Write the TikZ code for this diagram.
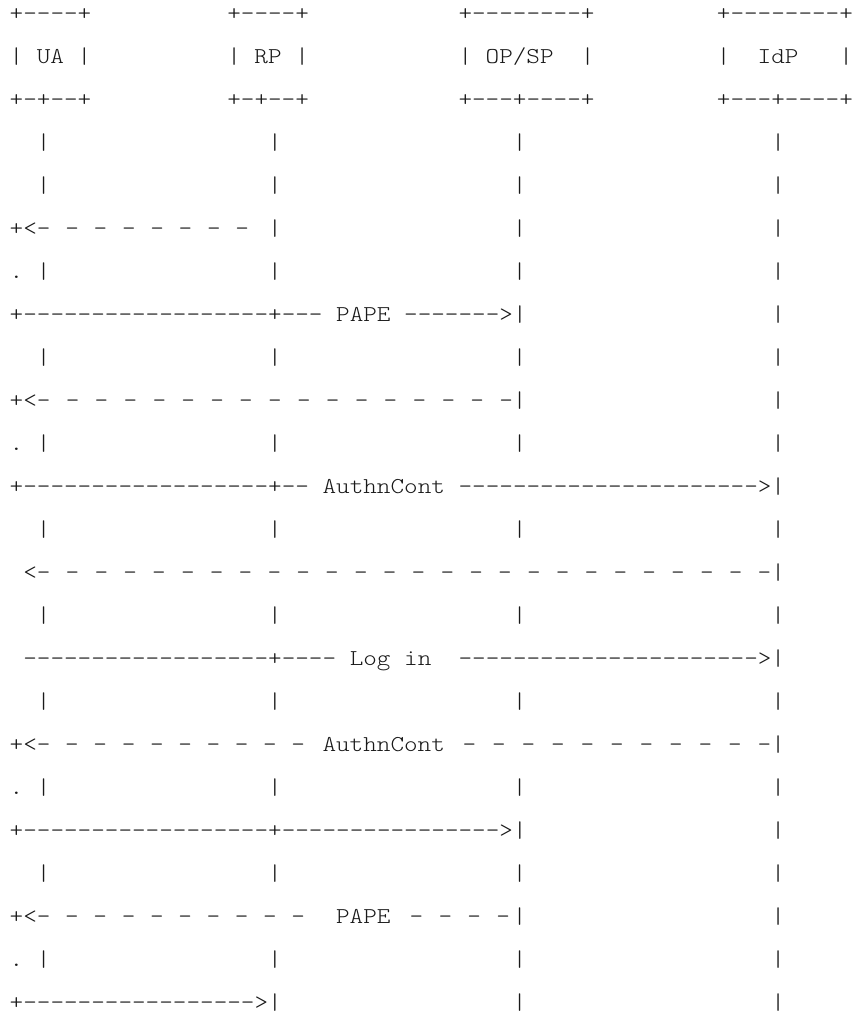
\documentclass[tikz,border=0pt]{standalone}
\usepackage{fontspec}
\setmonofont{lmmonolt10-regular.otf}[FakeStretch=1.143]
\ExplSyntaxOn
\NewDocumentCommand\dashrun{m}{\prg_replicate:nn{#1}{-}}
\ExplSyntaxOff
\colorlet{ink}{black!90}
\tikzset{glyph/.style={anchor=base west, inner sep=0pt, outer sep=0pt, text=ink,
  font=\ttfamily\fontsize{22.67pt}{43pt}\selectfont}}
% #1 name, #2 column, #3 line, #4 text
\newcommand\putat[4]{\node[glyph] (#1) at ({9.7+13.6*(#2)},{-20-43*((#3)-1)}) {#4};}
\begin{document}
\begin{tikzpicture}[x=1pt,y=1pt]
\fill[white] (0,0) rectangle (856,-1018);
\useasboundingbox (0,0) rectangle (856,-1018);
% header boxes
\putat{ua1}{0}{1}{+----+}
\putat{rp1}{16}{1}{+----+}
\putat{op1}{33}{1}{+--------+}
\putat{idp1}{52}{1}{+--------+}
\putat{ua2}{0}{2}{|~UA~|}
\putat{rp2}{16}{2}{|~RP~|}
\putat{op2}{33}{2}{|~OP/SP~~|}
\putat{idp2}{52}{2}{|~~IdP~~~|}
\putat{ua3}{0}{3}{+-+--+}
\putat{rp3}{16}{3}{+-+--+}
\putat{op3}{33}{3}{+---+----+}
\putat{idp3}{52}{3}{+---+----+}
% plain lifeline rows
\foreach \l in {4,5,9,13,15,17,21}{
  \foreach \c in {2,19,37,56}{\putat{v\l-\c}{\c}{\l}{|}}}
% dotted rows
\foreach \l in {7,11,19,23}{
  \putat{dot\l}{0}{\l}{.}
  \foreach \c in {2,19,37,56}{\putat{v\l-\c}{\c}{\l}{|}}}
% line 6
\putat{h6}{0}{6}{+<}
\foreach \i in {0,...,7}{\putat{a6-\i}{2+2.086*\i}{6}{-}}
\putat{e6}{19}{6}{|}
\putat{v6-37}{37}{6}{|}
\putat{v6-56}{56}{6}{|}
% line 8
\putat{m8}{0}{8}{+\dashrun{18}+---~PAPE~\dashrun{7}>|}
\putat{v8-56}{56}{8}{|}
% line 10
\putat{h10}{0}{10}{+<}
\foreach \i in {0,...,16}{\putat{a10-\i}{2+2.125*\i}{10}{-}}
\putat{e10}{37}{10}{|}
\putat{v10-56}{56}{10}{|}
% line 12
\putat{m12}{0}{12}{+\dashrun{18}+--~AuthnCont~\dashrun{22}>|}
% line 14
\putat{h14}{1}{14}{<}
\foreach \i in {0,...,25}{\putat{a14-\i}{2+2.12*\i}{14}{-}}
\putat{e14}{56}{14}{|}
% line 16
\putat{m16}{1}{16}{\dashrun{18}+----~Log~in~~\dashrun{22}>|}
% line 18
\putat{h18}{0}{18}{+<}
\foreach \i in {0,...,9}{\putat{a18-\i}{2+2.08*\i}{18}{-}}
\putat{t18}{23}{18}{AuthnCont}
\foreach \i in {0,...,10}{\putat{b18-\i}{33.3+2.17*\i}{18}{-}}
\putat{e18}{56}{18}{|}
% line 20
\putat{m20}{0}{20}{+\dashrun{18}+\dashrun{16}>|}
\putat{v20-56}{56}{20}{|}
% line 22
\putat{h22}{0}{22}{+<}
\foreach \i in {0,...,9}{\putat{a22-\i}{2+2.08*\i}{22}{-}}
\putat{t22}{24}{22}{PAPE}
\foreach \i in {0,...,3}{\putat{b22-\i}{29.4+2.13*\i}{22}{-}}
\putat{e22}{37}{22}{|}
\putat{v22-56}{56}{22}{|}
% line 24
\putat{m24}{0}{24}{+\dashrun{17}>|}
\putat{v24-37}{37}{24}{|}
\putat{v24-56}{56}{24}{|}
\end{tikzpicture}
\end{document}
